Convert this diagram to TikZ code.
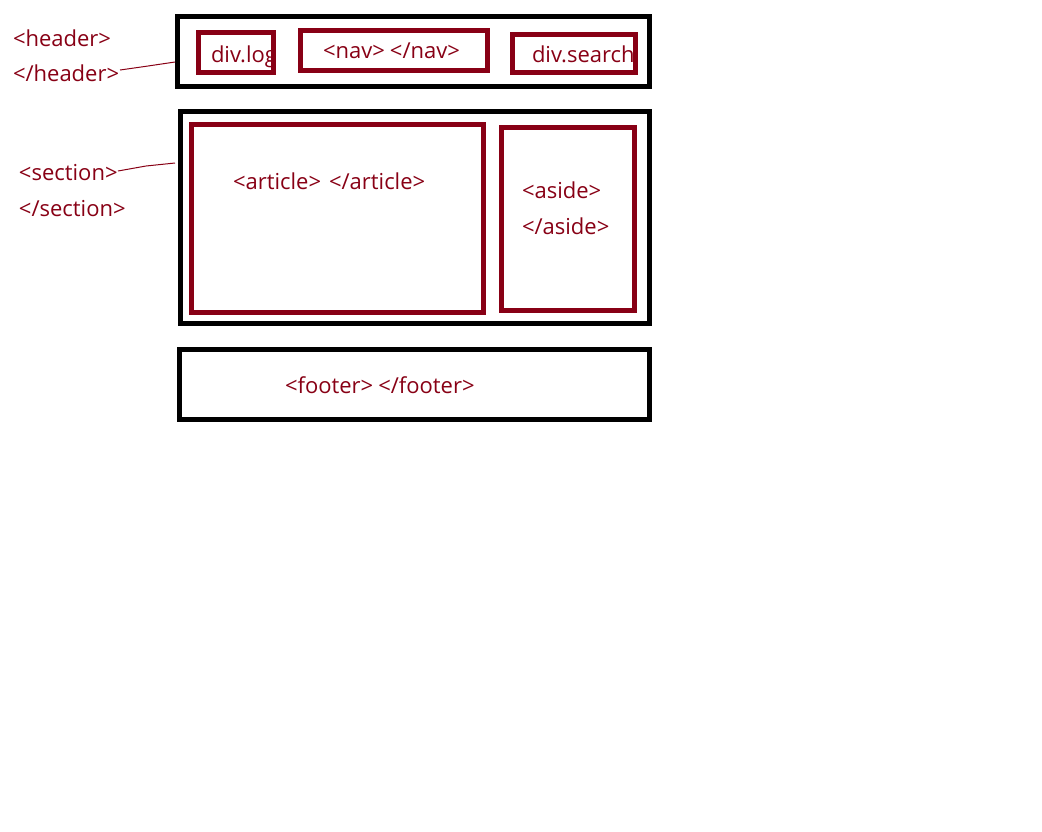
\documentclass[tikz,border=0pt]{standalone}
\usepackage{fontspec}
\setmainfont{Open Sans}
\definecolor{dred}{RGB}{136,0,21}
\tikzset{
  blackbox/.style={draw=black, line width=5pt, inner sep=0pt, outer sep=0pt, fill=none},
  redbox/.style={draw=dred, line width=5pt, inner sep=0pt, outer sep=0pt, fill=none},
  lbl/.style={text=dred, inner sep=0pt, outer sep=0pt, anchor=base west, font=\fontsize{22}{26}\selectfont},
  conn/.style={draw=dred, line width=1pt}
}
\begin{document}
\begin{tikzpicture}[x=1pt,y=-1pt]
\useasboundingbox[fill=white] (0,0) rectangle (1042,831);
% labels outside
\node[lbl] (hopen) at (13,46) {<header>};
\node[lbl] (hclose) at (13,81) {</header>};
\node[lbl] (sopen) at (19,180) {<section>};
\node[lbl] (sclose) at (19,216) {</section>};
% outer boxes
\node[blackbox, minimum width=471.5pt, minimum height=69.5pt] (header) at (413.25,51.25) {};
\node[blackbox, minimum width=469.5pt, minimum height=211.5pt] (section) at (414.75,217.25) {};
\node[blackbox, minimum width=470pt, minimum height=70pt] (footer) at (414.5,384) {};
% header content
\begin{scope}
\clip (190,30) rectangle (273.5,80);
\node[lbl] (logtext) at (211,62) {div.log};
\end{scope}
\node[redbox, minimum width=75pt, minimum height=40pt] (divlog) at (236,52.5) {};
\node[redbox, minimum width=187pt, minimum height=40pt] (nav) at (394,50.5) {};
\node[lbl] (navtext) at (323,58) {<nav>\kern5pt</nav>};
\node[redbox, minimum width=123pt, minimum height=38pt] (search) at (574,53.5) {};
\node[lbl] (searchtext) at (532,62) {div.search};
% section content
\node[redbox, minimum width=292pt, minimum height=188pt] (article) at (337.5,218.5) {};
\node[lbl] (articletext) at (233,189) {<article>\kern8pt</article>};
\node[redbox, minimum width=133pt, minimum height=183pt] (aside) at (568,219) {};
\node[lbl] (asideopen) at (522,198) {<aside>};
\node[lbl] (asideclose) at (522,234) {</aside>};
% footer content
\node[lbl] (footertext) at (285,393) {<footer>\kern5pt</footer>};
% connectors
\coordinate (hc1) at (120,70);
\coordinate (hc2) at (175,62);
\draw[conn] (hc1) -- (148,66) -- (hc2);
\coordinate (sc1) at (118,171);
\coordinate (sc2) at (175,163);
\draw[conn] (sc1) -- (146,166) -- (sc2);
\end{tikzpicture}
\end{document}
